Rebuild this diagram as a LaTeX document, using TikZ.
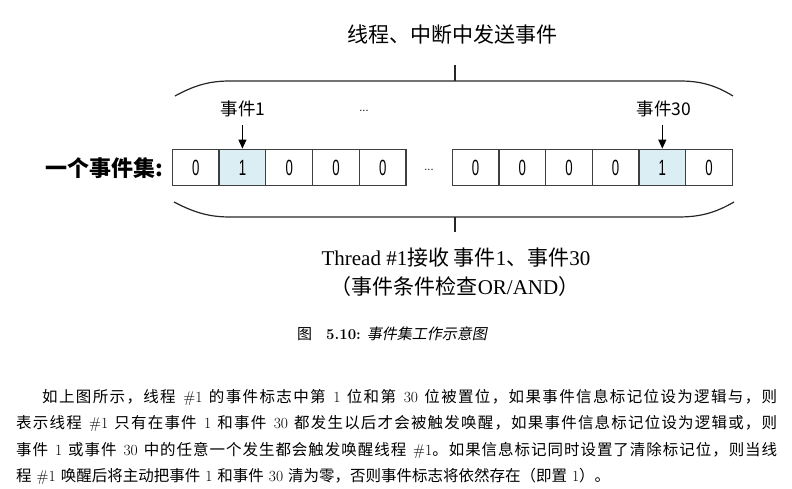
\documentclass[tikz,border=0pt]{standalone}
\usepackage{fontspec}
\usetikzlibrary{arrows.meta}
\newfontfamily\cjk{Noto Sans CJK SC}
\newfontfamily\cjkit[FakeSlant=0.2]{Noto Sans CJK SC}
\newfontfamily\tnr{Liberation Serif}
\newfontfamily\arialf{Liberation Sans}
\newfontfamily\narrowf[FakeStretch=0.6]{Liberation Sans}
\newcommand\zh[1]{{\cjk #1}}
% CJK run with stretchable glue after each character, for justified lines
\let\zsend\relax
\def\zs#1{{\cjk\zsloop#1\zsend}}
\def\zsloop#1{\ifx#1\zsend\else#1\hskip0pt plus 1pt\relax\expandafter\zsloop\fi}
\newcommand\bodyspacing{\spaceskip=5pt plus 1pt\relax}
\definecolor{cellline}{HTML}{3F3F3F}
\definecolor{setfill}{HTML}{DAEEF3}

\begin{document}
\begin{tikzpicture}[x=1pt,y=-1pt,
  cell/.style={draw=cellline, line width=1.3pt, minimum width=46.7pt,
    minimum height=36.5pt, inner sep=0pt, font=\narrowf\fontsize{22}{22}\selectfont},
  setcell/.style={cell, fill=setfill},
  brace/.style={draw=black!85, line width=1.2pt},
  ptr/.style={-{Triangle[length=9pt,width=8pt]}, line width=1.2pt},
  big/.style={font=\cjk\fontsize{21}{24}\selectfont, inner sep=0pt},
  lbl/.style={font=\cjk\fontsize{17.5}{18}\selectfont, inner sep=0pt},
  bodyline/.style={anchor=base west, inner sep=0pt,
    font={\fontsize{15.5}{18}\selectfont\bodyspacing}},
  ]
\useasboundingbox (0,0) rectangle (792,489);

% heading and its tick onto the upper brace
\node[big] (title) at (452,35) {线程、中断中发送事件};
\coordinate (ttop) at (455,65);
\coordinate (tbar) at (455,81);
\draw[brace] (ttop) -- (tbar);
\draw[brace] (175,96) .. controls (195,85) and (210,81) .. (230,81)
  -- (680,81) .. controls (700,81) and (715,85) .. (733,96);

% event flag cells
\foreach \v/\s [count=\i] in {0/cell,1/setcell,0/cell,0/cell,0/cell}
  \node[\s] (a\i) at ({172.3+46.75*(\i-0.5)},167.5) {\v};
\foreach \v/\s [count=\i] in {0/cell,0/cell,0/cell,0/cell,1/setcell,0/cell}
  \node[\s] (b\i) at ({452.3+46.67*(\i-0.5)},167.5) {\v};
\node[anchor=east, inner sep=0pt, font=\cjk\bfseries\fontsize{22}{24}\selectfont]
  (setname) at (163,168) {一个事件集:};
\node[inner sep=0pt, font=\arialf\fontsize{11}{12}\selectfont] (gap) at (429,170) {...};
\node[inner sep=0pt, font=\arialf\fontsize{11}{12}\selectfont] (gaptop) at (364,111) {...};

% event labels and their pointers
\node[lbl] (e1) at (243,109) {事件1};
\node[lbl] (e30) at (664,109) {事件30};
\draw[ptr, shorten <=8pt] (a2.north |- e1.south) -- (a2.north);
\draw[ptr, shorten <=8pt] (b5.north |- e30.south) -- (b5.north);

% lower brace and receiving thread
\draw[brace] (174,202) .. controls (195,213) and (210,217) .. (230,217)
  -- (678,217) .. controls (700,217) and (715,213) .. (734,202);
\coordinate (bbar) at (455,217);
\coordinate (bbot) at (455,232);
\draw[brace] (bbar) -- (bbot);
\node[big] (recv) at (456,258) {{\tnr Thread \#1}\zh{接收 事件}{\tnr 1}\zh{、事件}{\tnr 30}};
\node[big] (cond) at (455,287) {\zh{（事件条件检查}{\tnr OR/AND}\zh{）}};

% caption
\node[anchor=west, inner sep=0pt, font=\fontsize{15}{16}\selectfont] (cap) at (297,334)
  {{\cjk 图}\hspace{14pt}\textbf{5.10:}\hspace{6pt}{\cjkit 事件集工作示意图}};

% body text
\node[bodyline] (p1) at (42,402) {\hbox to 735pt{\zs{如上图所示，线程} \#1 \zs{的事件标志中第} 1 \zs{位和第} 30 \zs{位被置位，如果事件信息标记位设为逻辑与，}\zh{则}}};
\node[bodyline] (p2) at (16,428.5) {\hbox to 761pt{\zs{表示线程} \#1 \zs{只有在事件} 1 \zs{和事件} 30 \zs{都发生以后才会被触发唤醒，如果事件信息标记位设为逻辑或，}\zh{则}}};
\node[bodyline] (p3) at (16,455.5) {\hbox to 761pt{\zs{事件} 1 \zs{或事件} 30 \zs{中的任意一个发生都会触发唤醒线程} \#1\zs{。如果信息标记同时设置了清除标记位，则当}\zh{线}}};
\node[bodyline] (p4) at (16,481.5) {\zh{程} \#1 \zh{唤醒后将主动把事件} 1 \zh{和事件} 30 \zh{清为零，否则事件标志将依然存在（即置} 1\zh{）。}};
\end{tikzpicture}
\end{document}
